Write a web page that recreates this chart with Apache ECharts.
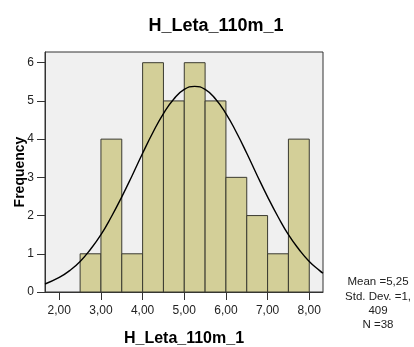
<!DOCTYPE html>
<html><head><meta charset="utf-8">
<script src="https://cdn.jsdelivr.net/npm/echarts@6/dist/echarts.min.js"></script>
<style>html,body{margin:0;padding:0;background:#fff}#c{width:414px;height:347px}</style>
</head><body><div id="c"></div>
<script>
var titleText = 'H_Leta_110m_1';
var xName = 'H_Leta_110m_1';
var yName = 'Frequency';
var binStarts = [2.5, 3.0, 3.5, 4.0, 4.5, 5.0, 5.5, 6.0, 6.5, 7.0, 7.5];
var binWidth = 0.5;
var counts = [1, 4, 1, 6, 5, 6, 5, 3, 2, 1, 4];
var xTicks = [2, 3, 4, 5, 6, 7, 8];
var yTicks = [0, 1, 2, 3, 4, 5, 6];
var curveX = [1.657, 2.0, 2.25, 2.5, 2.75, 3.0, 3.25, 3.5, 3.75, 4.0, 4.25, 4.5, 4.75, 5.0, 5.25, 5.5, 5.75, 6.0, 6.25, 6.5, 6.75, 7.0, 7.25, 7.5, 7.75, 8.0, 8.25, 8.33];
var curveY = [0.21, 0.38, 0.56, 0.80, 1.12, 1.50, 1.97, 2.49, 3.05, 3.63, 4.18, 4.67, 5.05, 5.30, 5.38, 5.30, 5.05, 4.67, 4.18, 3.63, 3.05, 2.49, 1.97, 1.50, 1.12, 0.80, 0.56, 0.49];
var statsLines = ['Mean =5,25', 'Std. Dev. =1,', '409', 'N =38'];

var chart = echarts.init(document.getElementById('c'));
var barData = binStarts.map(function (s, i) { return [s, s + binWidth, counts[i]]; });
var lineData = curveX.map(function (x, i) { return [x, curveY[i]]; });
var font = 'Arial, "Liberation Sans", Helvetica, sans-serif';

chart.setOption({
  animation: false,
  title: {
    text: titleText, left: 211, top: 12, textAlign: 'center',
    textStyle: { fontFamily: font, fontSize: 18, fontWeight: 'bold', color: '#000' }
  },
  grid: {
    left: 45, right: 91, top: 52, bottom: 55, containLabel: false, outerBoundsMode: 'none',
    show: true, backgroundColor: '#f0f0f0', borderColor: '#333', borderWidth: 1
  },
  xAxis: {
    type: 'value', min: 1.657, max: 8.33,
    name: xName, nameLocation: 'middle', nameGap: 39, nameMoveOverlap: false,
    nameTextStyle: { fontFamily: font, fontSize: 16, fontWeight: 'bold', color: '#000' },
    axisLine: { show: true, onZero: false, lineStyle: { color: '#333', width: 1 } },
    axisTick: { show: true, customValues: xTicks, length: 8, lineStyle: { color: '#333' } },
    axisLabel: {
      customValues: xTicks, margin: 13,
      fontFamily: font, fontSize: 12, color: '#222',
      formatter: function (v) { return v.toFixed(2).replace('.', ','); }
    },
    splitLine: { show: false }
  },
  yAxis: {
    type: 'value', min: 0, max: 6.28,
    name: yName, nameLocation: 'middle', nameGap: 18, nameMoveOverlap: false,
    nameTextStyle: { fontFamily: font, fontSize: 14, fontWeight: 'bold', color: '#000' },
    axisLine: { show: true, lineStyle: { color: '#333', width: 1 } },
    axisTick: { show: true, customValues: yTicks, length: 8, lineStyle: { color: '#333' } },
    axisLabel: { customValues: yTicks, margin: 11, fontFamily: font, fontSize: 12, color: '#222' },
    splitLine: { show: false }
  },
  series: [
    {
      type: 'custom',
      data: barData,
      renderItem: function (params, api) {
        var p0 = api.coord([api.value(0), api.value(2)]);
        var p1 = api.coord([api.value(1), 0]);
        return {
          type: 'rect',
          shape: { x: p0[0], y: p0[1], width: p1[0] - p0[0], height: p1[1] - p0[1] },
          style: { fill: '#d3cf98', stroke: '#3a3a30', lineWidth: 1 }
        };
      },
      encode: { x: [0, 1], y: 2 },
      z: 2
    },
    {
      type: 'line', data: lineData, smooth: true, showSymbol: false,
      lineStyle: { color: '#000', width: 1.4 }, z: 3
    }
  ],
  graphic: statsLines.map(function (t, i) {
    return {
      type: 'text', x: 378, y: 282 + i * 14.4,
      style: { text: t, fontFamily: font, fontSize: 11.5, fill: '#222', textAlign: 'center', textVerticalAlign: 'middle' }
    };
  })
});
</script></body></html>
